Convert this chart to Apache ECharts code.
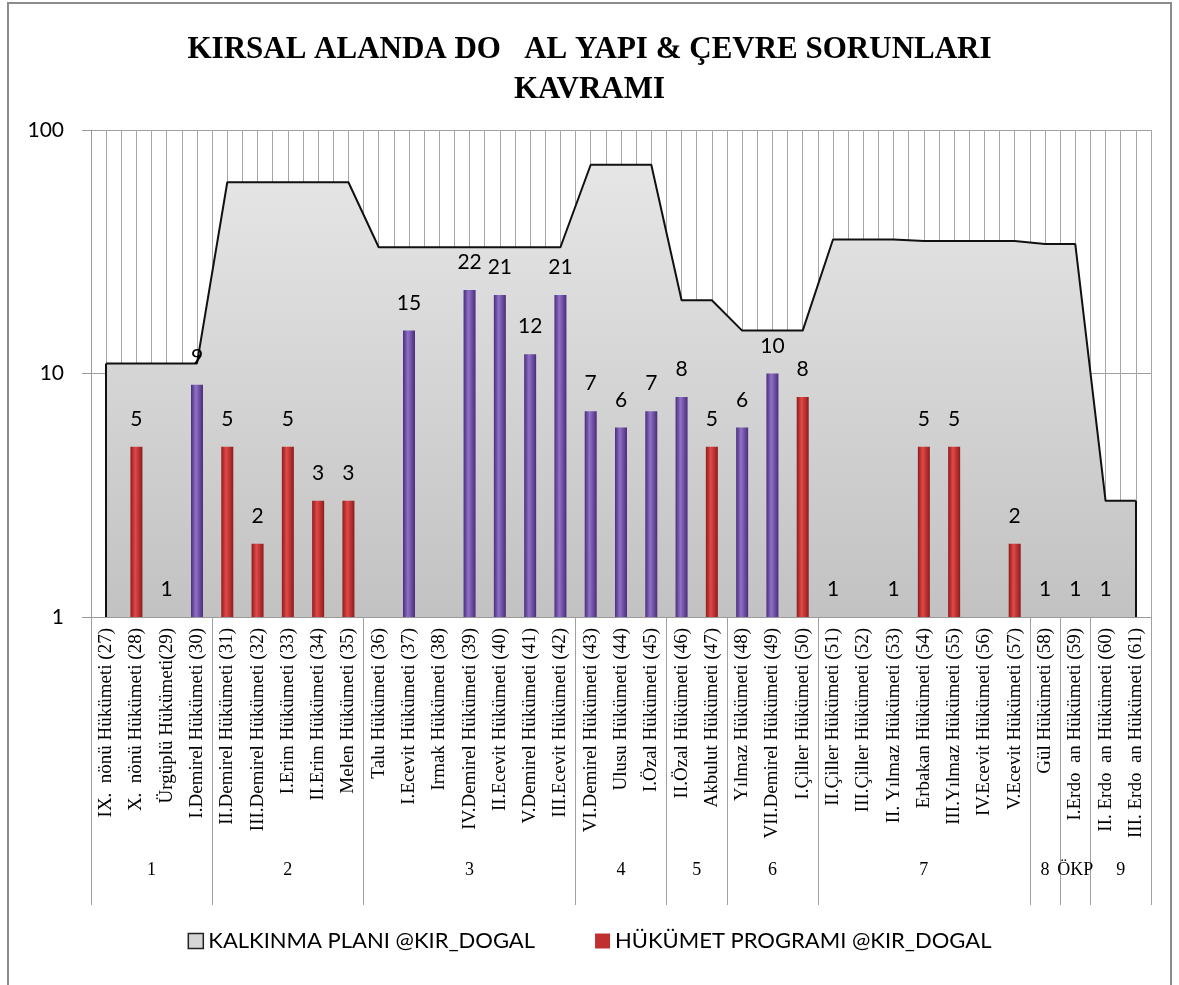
<!DOCTYPE html>
<html>
<head>
<meta charset="utf-8">
<script src="https://cdn.jsdelivr.net/npm/echarts@6/dist/echarts.min.js"></script>
<style>
  html, body { margin: 0; padding: 0; background: #fff; }
  #main { width: 1179px; height: 985px; }
</style>
</head>
<body>
<div id="main"></div>
<script>
// hükümetler (kategori ekseni)
const categories = [
  "IX.  nönü Hükümeti (27)", "X.  nönü Hükümeti (28)", "Ürgüplü Hükümeti(29)",
  "I.Demirel Hükümeti (30)", "II.Demirel Hükümeti (31)", "III.Demirel Hükümeti (32)",
  "I.Erim Hükümeti (33)", "II.Erim Hükümeti (34)", "Melen Hükümeti (35)",
  "Talu Hükümeti (36)", "I.Ecevit Hükümeti (37)", "Irmak Hükümeti (38)",
  "IV.Demirel Hükümeti (39)", "II.Ecevit Hükümeti (40)", "V.Demirel Hükümeti (41)",
  "III.Ecevit Hükümeti (42)", "VI.Demirel Hükümeti (43)", "Ulusu Hükümeti (44)",
  "I.Özal Hükümeti (45)", "II.Özal Hükümeti (46)", "Akbulut Hükümeti (47)",
  "Yılmaz Hükümeti (48)", "VII.Demirel Hükümeti (49)", "I.Çiller Hükümeti (50)",
  "II.Çiller Hükümeti (51)", "III.Çiller Hükümeti (52)", "II. Yılmaz Hükümeti (53)",
  "Erbakan Hükümeti (54)", "III.Yılmaz Hükümeti (55)", "IV.Ecevit Hükümeti (56)",
  "V.Ecevit Hükümeti (57)", "Gül Hükümeti (58)", "I.Erdo  an Hükümeti (59)",
  "II. Erdo  an Hükümeti (60)", "III. Erdo  an Hükümeti (61)"
];

// kalkınma planı dönemleri
const groupNames = ["1", "2", "3", "4", "5", "6", "7", "8", "ÖKP", "9"];
const groupSizes = [4, 5, 7, 3, 2, 3, 7, 1, 1, 2];

const planValues = [11, 11, 11, 11, 61, 61, 61, 61, 61, 33, 33, 33, 33, 33, 33, 33,
  72, 72, 72, 20, 20, 15, 15, 15, 35.5, 35.5, 35.5, 35, 35, 35, 35, 34, 34, 3, 3];

const programValues = [null, 5, 1, 9, 5, 2, 5, 3, 3, null, 15, null, 22, 21, 12, 21,
  7, 6, 7, 8, 5, 6, 10, 8, 1, null, 1, 5, 5, null, 2, 1, 1, 1, null];

// mor çizilen hükümet numaraları
const purpleGovs = [30, 37, 39, 40, 41, 42, 43, 44, 45, 46, 48, 49];

const yTicks = [1, 10, 100];

const chart = echarts.init(document.getElementById("main"));

const barGrad = (c1, c2) => new echarts.graphic.LinearGradient(0, 0, 1, 0, [
  { offset: 0, color: c1 }, { offset: 0.4, color: c2 }, { offset: 1, color: c1 }
]);
const redFill = barGrad("#8e1b1b", "#e24848");
const purpleFill = barGrad("#4a2c7c", "#8f72c6");

const groupBounds = [0];
const groupCenters = [];
groupSizes.forEach((s, i) => {
  const start = groupBounds[i];
  groupCenters.push(start + s / 2);
  groupBounds.push(start + s);
});

const barData = programValues.map((v, i) => {
  if (v === null) return "-";
  const gov = 27 + i;
  return { value: v, itemStyle: { color: purpleGovs.includes(gov) ? purpleFill : redFill } };
});

const option = {
  animation: false,
  backgroundColor: "#fff",
  title: {
    text: "KIRSAL ALANDA DO   AL YAPI & ÇEVRE SORUNLARI\nKAVRAMI",
    left: "center",
    top: 25,
    textStyle: {
      fontFamily: "Liberation Serif",
      fontWeight: "bold",
      fontSize: 31,
      lineHeight: 40,
      color: "#000"
    }
  },
  graphic: [{
    type: "rect",
    shape: { x: 8, y: 3, width: 1163, height: 1000 },
    style: { fill: "none", stroke: "#8c8c8c", lineWidth: 2 },
    silent: true
  }],
  legend: {
    bottom: 28,
    left: "center",
    itemWidth: 15,
    itemHeight: 15,
    itemGap: 60,
    textStyle: { fontFamily: "Lato", fontSize: 22, color: "#000" },
    data: [
      { name: "KALKINMA PLANI @KIR_DOGAL", icon: "rect",
        itemStyle: { color: "#d6d6d6", borderColor: "#222", borderWidth: 1.5 } },
      { name: "HÜKÜMET PROGRAMI @KIR_DOGAL", icon: "rect",
        itemStyle: { color: "#c0302f" } }
    ]
  },
  grid: { left: 91, right: 28, top: 130, bottom: 368 },
  xAxis: [
    {
      type: "category",
      data: categories,
      axisLine: { lineStyle: { color: "#9a9a9a", width: 1 } },
      axisTick: { interval: 0, length: 231, lineStyle: { color: "#a0a0a0" } },
      axisLabel: {
        interval: 0,
        rotate: 90,
        margin: 11,
        fontFamily: "Liberation Serif",
        fontSize: 19,
        color: "#000"
      },
      splitLine: { show: false }
    },
    {
      type: "value",
      min: 0,
      max: 70,
      interval: 1,
      position: "top",
      axisLine: { show: false },
      axisTick: { show: false },
      axisLabel: { show: false },
      splitLine: { show: true, lineStyle: { color: "#a6a6a6", width: 1 } }
    },
    {
      type: "value",
      min: 0,
      max: 35,
      position: "bottom",
      axisLine: { show: false },
      axisTick: { show: true, customValues: groupBounds, length: 288, lineStyle: { color: "#a0a0a0" } },
      axisLabel: {
        customValues: groupCenters,
        formatter: (v) => groupNames[groupCenters.indexOf(v)],
        margin: 244,
        fontFamily: "Liberation Serif",
        fontSize: 18,
        color: "#000"
      },
      splitLine: { show: false }
    }
  ],
  yAxis: {
    type: "log",
    logBase: 10,
    min: yTicks[0],
    max: yTicks[yTicks.length - 1],
    axisLine: { show: true, lineStyle: { color: "#9a9a9a" } },
    axisTick: { show: true, length: 9, lineStyle: { color: "#9a9a9a" } },
    axisLabel: { margin: 27, fontFamily: "Lato", fontSize: 21, color: "#000" },
    splitLine: { show: true, lineStyle: { color: "#a0a0a0" } }
  },
  series: [
    {
      name: "KALKINMA PLANI @KIR_DOGAL",
      type: "line",
      xAxisIndex: 0,
      data: planValues,
      symbol: "none",
      z: 2,
      lineStyle: { color: "#111", width: 2 },
      itemStyle: { color: "#d6d6d6" },
      areaStyle: {
        origin: "start",
        opacity: 1,
        color: new echarts.graphic.LinearGradient(0, 0, 0, 1, [
          { offset: 0, color: "#e6e6e6" },
          { offset: 1, color: "#c2c2c2" }
        ])
      },
      markLine: {
        silent: true,
        symbol: "none",
        label: { show: false },
        lineStyle: { color: "#111", width: 2, type: "solid" },
        data: [
          [{ coord: [0, yTicks[0]] }, { coord: [0, planValues[0]] }],
          [{ coord: [planValues.length - 1, yTicks[0]] }, { coord: [planValues.length - 1, planValues[planValues.length - 1]] }]
        ]
      }
    },
    {
      name: "HÜKÜMET PROGRAMI @KIR_DOGAL",
      type: "bar",
      xAxisIndex: 0,
      data: barData,
      barWidth: 12,
      z: 3,
      itemStyle: { color: redFill },
      label: {
        show: true,
        position: "top",
        distance: 17,
        fontFamily: "Lato",
        fontSize: 21,
        color: "#000"
      }
    }
  ]
};

chart.setOption(option);
</script>
</body>
</html>
